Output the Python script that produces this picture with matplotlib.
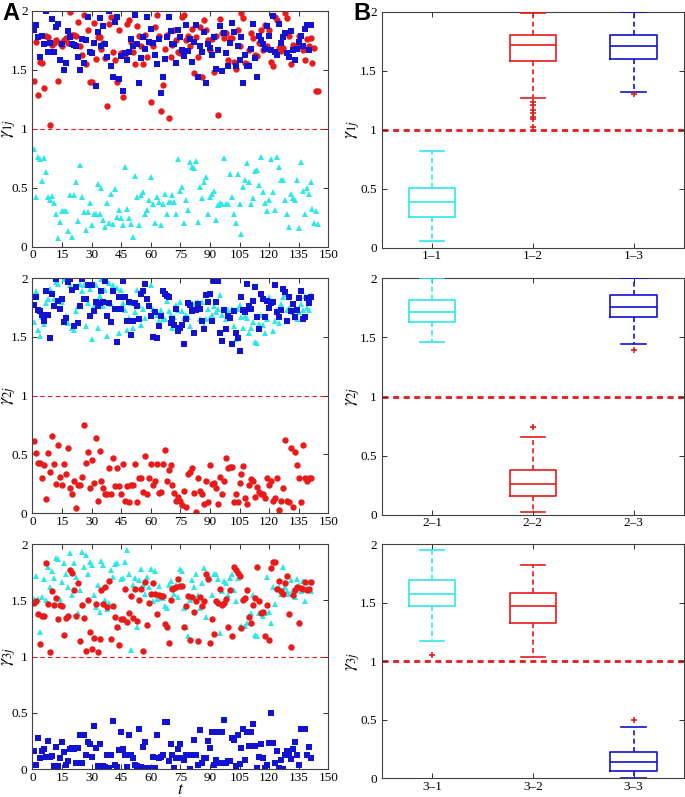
import matplotlib
matplotlib.use('Agg')
import matplotlib.pyplot as plt
import numpy as np

plt.rcParams['font.family'] = ['Liberation Serif', 'DejaVu Serif']
plt.rcParams['mathtext.fontset'] = 'stix'

RED = '#e81a1a'
BLUE = '#1212d2'
CYAN = '#2ee8e8'

# ---- panel A data: gamma_ij over t ----
g11 = [0.83, 0.42, 0.76, 0.74, 0.56, 0.75, 0.63, 0.42, 0.40, 0.43, 0.37, 0.28, 0.07, 0.21, 0.30,
       0.30, 0.30, 0.13, 0.44, 0.08, 0.44, 0.55, 0.22, 0.69, 0.42, 0.29, 0.14, 0.29, 0.37, 0.18,
       0.28, 0.28, 0.53, 0.28, 0.50, 0.23, 0.17, 0.37, 0.20, 0.45, 0.19, 0.49, 0.25, 0.31, 0.24,
       0.18, 0.68, 0.32, 0.24, 0.19, 0.08, 0.60, 0.42, 0.18, 0.44, 0.46, 0.28, 0.31, 0.40, 0.59,
       0.36, 0.20, 0.42, 0.38, 0.18, 0.36, 0.45, 0.28, 0.38, 0.38, 0.44, 0.38, 0.28, 0.74, 0.47,
       0.51, 0.20, 0.40, 0.31, 0.72, 0.68, 0.67, 0.73, 0.21, 0.51, 0.41, 0.55, 0.59, 0.28, 0.42,
       0.45, 0.47, 0.23, 0.35, 0.37, 0.36, 0.75, 0.36, 0.36, 0.62, 0.42, 0.28, 0.20, 0.62, 0.36,
       0.11, 0.51, 0.57, 0.71, 0.55, 0.36, 0.41, 0.64, 0.65, 0.52, 0.76, 0.46, 0.37, 0.30, 0.40,
       0.74, 0.46, 0.31, 0.76, 0.68, 0.57, 0.57, 0.40, 0.28, 0.17, 0.45, 0.41, 0.40, 0.57, 0.16,
       0.72, 0.47, 0.28, 0.50, 0.45, 0.55, 0.32, 0.20, 0.30, 0.19]
g12 = [1.41, 1.74, 1.29, 1.57, 1.56, 1.35, 1.79, 1.78, 1.03, 1.71, 1.73, 1.75, 1.41, 1.73, 1.70,
       1.75, 1.77, 1.73, 1.99, 1.80, 1.80, 1.79, 1.91, 1.70, 1.63, 1.97, 1.55, 1.84, 1.40, 1.40,
       1.90, 1.59, 1.78, 1.78, 1.68, 1.73, 1.60, 1.19, 1.89, 1.95, 1.65, 1.58, 1.40, 1.84, 1.64,
       1.27, 1.63, 1.89, 1.92, 1.74, 1.65, 1.55, 1.87, 1.79, 1.70, 1.55, 1.80, 1.61, 1.74, 1.23,
       1.70, 1.86, 1.97, 1.79, 1.15, 1.37, 1.68, 1.80, 1.09, 1.61, 1.71, 1.84, 1.75, 1.65, 1.64,
       1.95, 1.97, 1.75, 1.79, 1.70, 1.85, 1.47, 1.78, 1.61, 1.86, 1.44, 1.92, 1.84, 1.75, 1.67,
       1.76, 1.48, 1.79, 1.12, 1.93, 1.81, 1.77, 1.81, 1.58, 1.77, 1.77, 1.57, 1.51, 1.84, 1.70,
       1.98, 1.94, 1.56, 1.55, 1.67, 1.81, 1.77, 1.63, 1.62, 1.73, 1.84, 1.67, 1.88, 1.70, 1.84,
       1.57, 1.53, 1.95, 1.92, 1.69, 1.66, 1.69, 1.98, 1.94, 1.79, 1.55, 1.71, 1.69, 1.70, 1.79,
       1.70, 1.67, 1.58, 1.76, 1.70, 1.77, 1.56, 1.69, 1.32, 1.32]
g13 = [1.84, 1.88, 1.78, 1.61, 1.79, 1.72, 2.00, 1.65, 1.73, 1.93, 1.65, 1.86, 1.89, 1.58, 1.72,
       1.50, 1.56, 1.83, 1.78, 1.72, 1.71, 1.70, 1.61, 1.50, 1.76, 1.56, 1.75, 1.95, 1.65, 1.64,
       1.73, 1.36, 1.82, 1.94, 1.70, 1.87, 1.72, 1.61, 2.00, 1.53, 1.44, 1.91, 1.95, 1.42, 1.62,
       1.32, 1.64, 1.58, 1.65, 1.76, 1.70, 1.97, 1.72, 1.39, 1.60, 1.78, 1.68, 1.95, 1.74, 1.85,
       1.73, 1.63, 1.55, 1.76, 1.30, 1.44, 1.59, 1.78, 1.95, 1.83, 1.72, 1.72, 1.56, 1.84, 1.78,
       1.67, 1.62, 1.88, 1.66, 1.76, 1.57, 1.74, 1.88, 1.44, 1.70, 1.65, 1.82, 1.39, 1.72, 1.69,
       1.63, 1.78, 1.51, 1.67, 1.87, 1.49, 1.81, 1.64, 1.53, 1.73, 1.90, 1.82, 1.53, 1.70, 1.58,
       1.78, 1.39, 1.63, 1.53, 1.53, 1.68, 1.89, 1.60, 1.44, 1.79, 1.75, 1.72, 1.68, 1.87, 1.79,
       1.67, 1.96, 1.65, 1.63, 1.89, 1.73, 1.78, 1.81, 1.64, 1.61, 1.83, 1.67, 1.58, 1.68, 1.74,
       1.79, 1.70, 1.85, 1.88, 1.67, 1.88]

g21 = [1.63, 1.89, 1.56, 1.51, 1.67, 1.61, 1.79, 1.82, 1.91, 1.88, 1.82, 1.97, 1.95, 1.82, 1.80,
       1.99, 1.68, 1.62, 1.94, 1.58, 1.56, 1.72, 1.76, 1.95, 1.89, 1.94, 1.59, 1.79, 1.91, 1.48,
       1.76, 1.94, 1.58, 1.85, 1.99, 1.76, 1.90, 1.51, 1.96, 1.78, 1.94, 1.74, 1.92, 1.53, 1.90,
       1.79, 1.73, 1.56, 1.66, 1.79, 1.58, 1.71, 1.90, 1.77, 1.60, 1.74, 1.66, 1.82, 1.77, 1.94,
       1.74, 1.72, 1.69, 1.64, 1.73, 1.65, 1.65, 1.81, 1.72, 1.69, 1.58, 1.67, 1.77, 1.73, 1.80,
       1.72, 1.66, 1.69, 1.67, 1.59, 1.79, 1.75, 1.80, 1.80, 1.65, 1.80, 1.59, 1.65, 1.74, 1.66,
       1.69, 1.76, 1.71, 1.74, 1.86, 1.69, 1.73, 1.65, 1.73, 1.67, 1.74, 1.59, 1.48, 1.74, 1.77,
       1.67, 1.58, 1.68, 1.66, 1.53, 1.58, 1.63, 1.46, 1.45, 1.61, 1.69, 1.60, 1.53, 1.65, 1.84,
       1.81, 1.55, 1.64, 1.73, 1.62, 1.78, 1.84, 1.87, 1.73, 1.75, 1.73, 1.71, 1.67, 1.65, 1.71,
       1.78, 1.73, 1.85, 1.75, 1.73, 1.86]
g22 = [0.61, 0.51, 0.43, 0.43, 0.30, 0.41, 0.12, 0.51, 0.35, 0.66, 0.42, 0.25, 0.58, 0.31, 0.24,
       0.42, 0.33, 0.55, 0.21, 0.16, 0.27, 0.04, 0.24, 0.24, 0.31, 0.75, 0.43, 0.52, 0.21, 0.45,
       0.26, 0.64, 0.10, 0.53, 0.27, 0.21, 0.16, 0.16, 0.38, 0.16, 0.47, 0.23, 0.38, 0.23, 0.16,
       0.42, 0.10, 0.23, 0.09, 0.24, 0.24, 0.42, 0.09, 0.30, 0.30, 0.18, 0.49, 0.16, 0.30, 0.42,
       0.24, 0.27, 0.42, 0.17, 0.18, 0.42, 0.54, 0.27, 0.37, 0.41, 0.24, 0.17, 0.10, 0.14, 0.10,
       0.07, 0.19, 0.05, 0.33, 0.35, 0.38, 0.17, 0.01, 0.30, 0.19, 0.16, 0.08, 0.27, 0.09, 0.41,
       0.25, 0.26, 0.21, 0.08, 0.31, 0.16, 0.27, 0.47, 0.38, 0.39, 0.39, 0.09, 0.16, 0.09, 0.26,
       0.33, 0.40, 0.13, 0.08, 0.24, 0.29, 0.27, 0.14, 0.22, 0.18, 0.16, 0.16, 0.13, 0.30, 0.24,
       0.27, 0.10, 0.13, 0.30, 0.03, 0.10, 0.21, 0.62, 0.10, 0.09, 0.55, 0.05, 0.52, 0.41, 0.30,
       0.09, 0.58, 0.30, 0.27, 0.30, 0.30]
g23 = [1.77, 1.84, 1.73, 1.72, 1.69, 1.64, 1.89, 1.69, 1.49, 1.87, 1.76, 1.99, 1.81, 1.74, 1.82,
       1.63, 1.66, 1.97, 1.99, 1.90, 1.59, 1.93, 1.62, 1.76, 1.99, 1.82, 1.82, 1.94, 1.68, 1.94,
       1.72, 1.80, 1.76, 1.79, 1.89, 1.80, 1.98, 1.68, 1.79, 1.63, 1.89, 1.74, 1.46, 1.84, 1.74,
       1.98, 1.84, 1.64, 1.80, 1.52, 1.64, 1.79, 1.76, 1.65, 1.87, 1.89, 1.95, 1.82, 1.76, 1.68,
       1.50, 1.71, 1.49, 1.59, 1.68, 1.89, 1.87, 1.85, 1.84, 1.62, 1.65, 1.60, 1.74, 1.55, 1.58,
       1.60, 1.44, 1.65, 1.79, 1.77, 1.72, 1.53, 1.73, 1.78, 1.74, 1.64, 1.57, 1.86, 1.80, 1.87,
       1.64, 1.98, 1.80, 1.98, 1.53, 1.47, 1.73, 1.57, 1.68, 1.66, 1.44, 1.72, 1.53, 1.49, 1.38,
       1.84, 1.73, 1.71, 1.95, 1.76, 1.74, 1.81, 1.93, 1.67, 1.57, 1.87, 1.82, 1.67, 1.81, 1.75,
       1.79, 1.80, 1.94, 1.71, 1.67, 1.73, 1.91, 1.88, 1.64, 1.84, 1.72, 1.78, 1.67, 1.73, 1.83,
       1.89, 1.65, 1.67, 1.83, 1.79, 1.84]

g31 = [1.51, 1.72, 1.51, 1.22, 1.53, 1.69, 1.50, 1.80, 1.62, 1.76, 1.70, 1.88, 1.87, 1.51, 1.66,
       1.83, 1.73, 1.62, 1.92, 1.55, 1.83, 1.71, 1.39, 1.59, 1.93, 1.80, 1.90, 1.73, 1.84, 1.81,
       1.55, 1.44, 1.64, 1.40, 1.85, 1.81, 1.50, 1.42, 1.48, 1.77, 1.71, 1.82, 1.83, 1.26, 1.69,
       1.70, 1.84, 1.95, 1.73, 1.06, 1.64, 1.70, 1.26, 1.68, 1.78, 1.64, 1.56, 1.71, 1.62, 1.78,
       1.49, 1.76, 1.51, 1.63, 1.52, 1.52, 1.45, 1.43, 1.64, 1.67, 1.62, 1.56, 1.64, 1.53, 1.78,
       1.76, 1.43, 1.26, 1.18, 1.50, 1.68, 1.62, 1.73, 1.55, 1.43, 1.65, 1.79, 1.35, 1.72, 1.70,
       1.55, 1.73, 1.73, 1.69, 1.21, 1.58, 1.67, 1.65, 1.55, 1.70, 1.73, 1.59, 1.49, 1.70, 1.26,
       1.27, 1.51, 1.27, 1.30, 1.36, 1.39, 1.55, 1.19, 1.18, 1.39, 1.40, 1.36, 1.39, 1.71, 1.40,
       1.30, 1.62, 1.47, 1.61, 1.62, 1.56, 1.80, 1.62, 1.58, 1.56, 1.68, 1.59, 1.53, 1.69, 1.64,
       1.58, 1.67, 1.49, 1.61, 1.66, 1.58]
g32 = [1.48, 1.49, 1.38, 1.11, 1.36, 1.36, 1.83, 1.47, 1.04, 1.58, 1.46, 1.52, 1.33, 1.46, 1.45,
       1.19, 1.34, 1.36, 1.77, 1.74, 1.59, 1.36, 1.65, 1.14, 1.46, 1.34, 1.05, 1.50, 1.22, 1.07,
       1.17, 1.47, 1.04, 1.16, 1.59, 1.47, 1.62, 1.44, 1.67, 1.16, 1.45, 1.35, 1.26, 1.10, 1.33,
       1.33, 1.60, 1.31, 1.39, 1.54, 1.34, 1.60, 1.32, 1.50, 1.60, 1.05, 1.66, 1.28, 1.48, 1.56,
       1.65, 1.56, 1.38, 1.55, 1.54, 1.54, 1.29, 1.26, 1.12, 1.50, 1.60, 1.61, 1.62, 1.69, 1.63,
       1.63, 1.26, 1.45, 1.54, 1.15, 1.53, 1.40, 1.49, 1.14, 1.53, 1.45, 1.49, 1.73, 1.69, 1.12,
       1.33, 1.20, 1.49, 1.48, 1.60, 1.46, 1.48, 1.51, 1.26, 1.59, 1.18, 1.80, 1.77, 1.74, 1.72,
       1.25, 1.50, 1.52, 1.59, 1.35, 1.30, 1.46, 1.52, 1.80, 1.49, 1.39, 1.40, 1.18, 1.46, 1.15,
       1.79, 1.84, 1.84, 1.60, 1.67, 1.58, 1.56, 1.65, 1.72, 1.38, 1.09, 1.55, 1.59, 1.62, 1.30,
       1.61, 1.60, 1.66, 1.59, 1.60, 1.66]
g33 = [0.16, 0.04, 0.28, 0.10, 0.16, 0.18, 0.11, 0.25, 0.11, 0.12, 0.03, 0.20, 0.03, 0.10, 0.24,
       0.15, 0.04, 0.07, 0.18, 0.19, 0.18, 0.06, 0.19, 0.30, 0.06, 0.30, 0.13, 0.24, 0.22, 0.11,
       0.38, 0.19, 0.03, 0.22, 0.03, 0.03, 0.02, 0.13, 0.01, 0.13, 0.43, 0.04, 0.02, 0.17, 0.33,
       0.18, 0.13, 0.02, 0.30, 0.13, 0.10, 0.04, 0.03, 0.36, 0.02, 0.20, 0.24, 0.01, 0.01, 0.01,
       0.11, 0.01, 0.30, 0.10, 0.11, 0.13, 0.42, 0.42, 0.07, 0.22, 0.13, 0.01, 0.10, 0.18, 0.22,
       0.10, 0.08, 0.13, 0.13, 0.00, 0.13, 0.26, 0.13, 0.04, 0.35, 0.06, 0.10, 0.10, 0.25, 0.19,
       0.33, 0.04, 0.08, 0.33, 0.06, 0.33, 0.44, 0.06, 0.07, 0.07, 0.28, 0.26, 0.03, 0.30, 0.05,
       0.19, 0.36, 0.08, 0.33, 0.21, 0.33, 0.40, 0.21, 0.01, 0.11, 0.22, 0.10, 0.01, 0.04, 0.23,
       0.50, 0.23, 0.06, 0.16, 0.01, 0.08, 0.00, 0.13, 0.16, 0.13, 0.09, 0.18, 0.24, 0.13, 0.04,
       0.36, 0.36, 0.36, 0.13, 0.20, 0.10]

# ---- panel B data: box statistics (median, quartiles, whiskers, outliers) ----
box_labels = [['1\u20131', '1\u20132', '1\u20133'],
              ['2\u20131', '2\u20132', '2\u20133'],
              ['3\u20131', '3\u20132', '3\u20133']]
box_med = [[0.39, 1.715, 1.71], [1.715, 0.257, 1.76], [1.575, 1.475, 0.135]]
box_q1 = [[0.263, 1.58, 1.60], [1.63, 0.158, 1.675], [1.475, 1.325, 0.062]]
box_q3 = [[0.51, 1.80, 1.80], [1.815, 0.38, 1.86], [1.69, 1.58, 0.227]]
box_lo = [[0.06, 1.27, 1.32], [1.46, 0.02, 1.445], [1.17, 1.035, 0.0]]
box_hi = [[0.82, 1.99, 2.0], [2.0, 0.66, 2.0], [1.95, 1.825, 0.435]]
box_out = [[[], [1.234, 1.206, 1.167, 1.138, 1.11, 1.09, 1.025], [1.30]],
           [[], [0.74], [1.39]],
           [[1.05], [], [0.50]]]

scatter_rows = [(g11, g12, g13), (g21, g22, g23), (g31, g32, g33)]
colors = [CYAN, RED, BLUE]
markers = [('^', 5.0), ('o', 4.6), ('s', 3.9)]

fig = plt.figure(figsize=(6.85, 7.97), dpi=100)

left_rects = [[0.0474, 0.6905, 0.4318, 0.2957],
              [0.0474, 0.3563, 0.4318, 0.2945],
              [0.0474, 0.0348, 0.4318, 0.2826]]
right_rects = [[0.5572, 0.6892, 0.4413, 0.2961],
               [0.5572, 0.3542, 0.4413, 0.2966],
               [0.5572, 0.0235, 0.4413, 0.2939]]


def style_axes(ax):
    for s in ax.spines.values():
        s.set_color('#404040')
        s.set_linewidth(0.8)
    ax.tick_params(direction='in', top=True, right=True, labelsize=9.5,
                   length=3.5, width=0.7, colors='#303030', labelcolor='black')
    ax.tick_params(axis='x', pad=2)
    ax.set_ylim(0, 2)
    ax.set_yticks([0, 0.5, 1, 1.5, 2])
    ax.set_yticklabels(['0', '0.5', '1', '1.5', '2'])


for i, rect in enumerate(left_rects):
    ax = fig.add_axes(rect)
    style_axes(ax)
    for vals, c, (m, ms) in zip(scatter_rows[i], colors, markers):
        t = np.arange(1, len(vals) + 1)
        ax.plot(t, vals, linestyle='none', marker=m, markersize=ms,
                color=c, markeredgewidth=0)
    ax.axhline(1, color=RED, linestyle=(0, (4, 3)), linewidth=0.8)
    ax.set_xlim(0, 150)
    ax.set_xticks(np.arange(0, 151, 15))
    ax.set_ylabel(r'$\gamma_{%dj}$' % (i + 1), fontsize=13)
    ax.yaxis.set_label_coords(-0.05, 0.5)
    if i == 2:
        ax.set_xlabel(r'$t$', fontsize=12.5, va='top')
        ax.xaxis.set_label_coords(0.5, -0.055)

for i, rect in enumerate(right_rects):
    ax = fig.add_axes(rect)
    style_axes(ax)
    ax.axhline(1, color=RED, linestyle=(0, (2.2, 1.6)), linewidth=2.0, zorder=1)
    for k in range(3):
        st = [dict(med=box_med[i][k], q1=box_q1[i][k], q3=box_q3[i][k],
                   whislo=box_lo[i][k], whishi=box_hi[i][k], fliers=box_out[i][k])]
        c = colors[k]
        ax.bxp(st, positions=[k + 1], widths=0.46, capwidths=0.24,
               boxprops=dict(color=c, linewidth=1.2),
               medianprops=dict(color=c, linewidth=1.2),
               whiskerprops=dict(color=c, linewidth=1.2, linestyle=(0, (3, 2))),
               capprops=dict(color=c, linewidth=1.2),
               flierprops=dict(marker='+', markersize=4.5, markeredgecolor=RED,
                               markeredgewidth=1.2, linestyle='none'),
               manage_ticks=False, zorder=3)
    ax.set_xlim(0.5, 3.5)
    ax.set_xticks([1, 2, 3])
    ax.set_xticklabels(box_labels[i])
    ax.set_ylabel(r'$\gamma_{%dj}$' % (i + 1), fontsize=13)
    ax.yaxis.set_label_coords(-0.066, 0.5)

fig.text(0.003, 0.998, 'A', fontsize=17, fontweight='bold', va='top', ha='left',
         family=['Liberation Sans', 'DejaVu Sans'])
fig.text(353 / 685, 0.998, 'B', fontsize=17, fontweight='bold', va='top', ha='left',
         family=['Liberation Sans', 'DejaVu Sans'])

fig.savefig('out.png', dpi=100)
